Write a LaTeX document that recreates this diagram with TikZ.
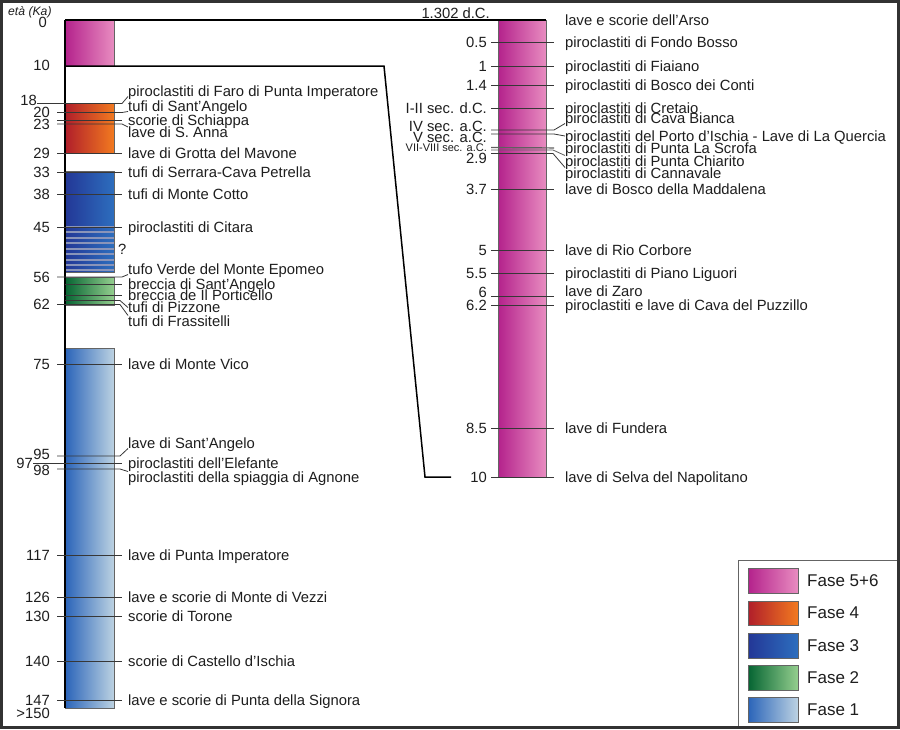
\documentclass[tikz,border=0pt]{standalone}
\usepackage{fontspec}
\setmainfont{Liberation Sans}
\definecolor{txtc}{RGB}{30,30,30}
\definecolor{tkc}{RGB}{55,55,55}
\definecolor{barc}{RGB}{100,100,100}
\definecolor{framec}{RGB}{50,50,50}
\definecolor{pL}{RGB}{180,34,140}
\definecolor{pR}{RGB}{232,140,192}
\definecolor{oL}{RGB}{176,30,42}
\definecolor{oR}{RGB}{242,122,32}
\definecolor{bL}{RGB}{35,55,150}
\definecolor{bR}{RGB}{45,110,190}
\definecolor{gL}{RGB}{5,100,50}
\definecolor{gR}{RGB}{148,206,142}
\definecolor{cL}{RGB}{42,100,185}
\definecolor{cR}{RGB}{188,210,226}
\definecolor{hatchc}{RGB}{138,148,185}
\tikzset{
  lbl/.style={inner sep=0pt, font=\fontsize{14.8}{16}\selectfont, text=txtc, text height=10.6pt, text depth=0pt},
  nm/.style={lbl, anchor=west},
  age/.style={lbl, anchor=east},
  tk/.style={draw=tkc, line width=0.8pt},
  bar/.style={draw=barc, line width=0.7pt},
  conn/.style={draw=black, line width=1.5pt},
  leg/.style={inner sep=0pt, font=\fontsize{17}{19}\selectfont, text=txtc, anchor=west},
}
% left straight row: name, y, age, text
\newcommand\Lst[4]{\node[nm] (n#1) at (128,#2) {#4};\node[age] (a#1) at (50,#2) {#3};\coordinate (t#1) at (57,#2);\draw[tk, shorten >=6pt] (t#1) -- (n#1.west);}
% right straight row
\newcommand\Rst[4]{\node[nm] (n#1) at (565,#2) {#4};\node[age] (a#1) at (487,#2) {#3};\coordinate (t#1) at (491,#2);\draw[tk, shorten >=11pt] (t#1) -- (n#1.west);}
\begin{document}
\begin{tikzpicture}[x=1pt,y=-1pt]
\useasboundingbox (0,0) rectangle (900,729);
\fill[white] (0,0) rectangle (900,729);

% ---- bars ----
\fill[left color=pL, right color=pR] (65,20) rectangle (114,66);
\draw[bar] (65,20) rectangle (114,66);
\fill[left color=oL, right color=oR] (65,103) rectangle (114,153);
\draw[bar] (65,103) rectangle (114,153);
\fill[left color=bL, right color=bR] (65,171) rectangle (114,272);
\draw[bar] (65,171) rectangle (114,272);
\fill[left color=gL, right color=gR] (65,277) rectangle (114,305);
\draw[bar] (65,277) rectangle (114,305);
\fill[left color=cL, right color=cR] (65,348) rectangle (114,708);
\draw[bar] (65,348) rectangle (114,708);
\fill[left color=pL, right color=pR] (498,20) rectangle (546,477);
\draw[bar] (498,20) rectangle (546,477);

% hatch lines in Fase 3
\foreach \yy in {227,232,238,243,249,254,260,265,270}
  \draw[hatchc, line width=1.3pt] (65,\yy) -- (114,\yy);
\node[nm] (qm) at (118,249) {?};

% ---- axis & connectors ----
\coordinate (AX0) at (65,20);
\coordinate (AX1) at (65,708);
\coordinate (RPtr) at (546,20);
\coordinate (LPbl) at (65,66);
\coordinate (K1) at (384,66);
\coordinate (K2) at (425,477);
\coordinate (K3) at (451,477);
\draw[conn] (AX0) -- (AX1);
\draw[conn] (AX0) -- (RPtr);
\draw[conn] (LPbl) -- (K1) -- (K2) -- (K3);

% ---- left column ----
\node[lbl, anchor=west, font=\itshape\fontsize{12.2}{14}\selectfont] (eta) at (8,10) {età (Ka)};
\node[age] (a0) at (47,22) {0};
\node[age] (a10) at (50,65) {10};

% 18 Faro
\node[nm] (nFaro) at (128,91) {piroclastiti di Faro di Punta Imperatore};
\node[age] (a18) at (37,100) {18};
\coordinate (t18) at (37,103.5); \coordinate (b18) at (122,103.5);
\draw[tk] (t18) -- (b18) -- (nFaro.south west);
% 20 tufi di Sant'Angelo
\node[nm] (nTSA) at (128,106) {tufi di Sant’Angelo};
\node[age] (a20) at (50,112) {20};
\coordinate (t20) at (57,112.5); \coordinate (b20) at (122,112.5);
\draw[tk] (t20) -- (b20) -- (nTSA.south west);
% 23 scorie di Schiappa / lave di S. Anna
\node[nm] (nSch) at (128,120) {scorie di Schiappa};
\node[nm] (nSAn) at (128,132.5) {lave di S. Anna};
\node[age] (a23) at (50,124) {23};
\coordinate (t23a) at (57,120); \coordinate (t23b) at (57,124); \coordinate (b23b) at (122,124);
\draw[tk, shorten >=6pt] (t23a) -- (nSch.west);
\draw[tk] (t23b) -- (b23b) -- (nSAn.north west);

\Lst{29}{153}{29}{lave di Grotta del Mavone}
\Lst{33}{172}{33}{tufi di Serrara-Cava Petrella}
\Lst{38}{194}{38}{tufi di Monte Cotto}
\Lst{45}{227}{45}{piroclastiti di Citara}

% 56 tufo Verde
\node[nm] (nTV) at (128,269) {tufo Verde del Monte Epomeo};
\node[age] (a56) at (50,277) {56};
\coordinate (t56) at (57,277); \coordinate (b56) at (122,277);
\draw[tk] (t56) -- (b56) -- (nTV.south west);
% breccias
\node[nm] (nBSA) at (128,284) {breccia di Sant’Angelo};
\coordinate (tBSA) at (65,284);
\draw[tk, shorten >=6pt] (tBSA) -- (nBSA.west);
\node[nm] (nBIP) at (128,295) {breccia de Il Porticello};
\coordinate (tBIP) at (65,295);
\draw[tk, shorten >=6pt] (tBIP) -- (nBIP.west);
% Pizzone
\node[nm] (nPiz) at (128,307.5) {tufi di Pizzone};
\coordinate (tPiz) at (65,300.5); \coordinate (bPiz) at (120,300.5);
\draw[tk] (tPiz) -- (bPiz) -- (nPiz.west);
% 62 Frassitelli
\node[nm] (nFra) at (128,321) {tufi di Frassitelli};
\node[age] (a62) at (50,304) {62};
\coordinate (t62) at (57,304.5); \coordinate (b62) at (120,304.5);
\draw[tk] (t62) -- (b62) -- (nFra.north west);

\Lst{75}{364}{75}{lave di Monte Vico}

% 95
\node[nm] (nLSA) at (128,443) {lave di Sant’Angelo};
\node[age] (a95) at (50,454) {95};
\coordinate (t95) at (57,456); \coordinate (b95) at (120,456);
\draw[tk] (t95) -- (b95) -- (nLSA.south west);
% 97
\node[nm] (nEle) at (128,463) {piroclastiti dell’Elefante};
\node[age] (a97) at (33,463) {97};
\coordinate (t97) at (33,463);
\draw[tk, shorten >=6pt] (t97) -- (nEle.west);
% 98
\node[nm] (nAgn) at (128,477) {piroclastiti della spiaggia di Agnone};
\node[age] (a98) at (50,470) {98};
\coordinate (t98) at (57,469); \coordinate (b98) at (120,469);
\draw[tk] (t98) -- (b98) -- (nAgn.north west);

\Lst{117}{555}{117}{lave di Punta Imperatore}
\Lst{126}{597}{126}{lave e scorie di Monte di Vezzi}
\Lst{130}{616}{130}{scorie di Torone}
\Lst{140}{661}{140}{scorie di Castello d’Ischia}
\Lst{147}{700}{147}{lave e scorie di Punta della Signora}
\node[age] (a150) at (50,713) {>150};

% ---- right column ----
\node[age] (aArso) at (490,13.5) {1.302 d.C.};
\node[nm] (nArso) at (565,20) {lave e scorie dell’Arso};
\Rst{r05}{42}{0.5}{piroclastiti di Fondo Bosso}
\Rst{r1}{66}{1}{piroclastiti di Fiaiano}
\Rst{r14}{85}{1.4}{piroclastiti di Bosco dei Conti}
\Rst{rI}{108}{I-II sec. d.C.}{piroclastiti di Cretaio}
% IV sec
\node[nm] (nCB) at (565,118) {piroclastiti di Cava Bianca};
\node[age] (aIV) at (487,126) {IV sec. a.C.};
\coordinate (tIV) at (491,130); \coordinate (bIV) at (554,130);
\draw[tk] (tIV) -- (bIV) -- (nCB.south west);
% V sec
\node[nm] (nPI) at (565,136) {piroclastiti del Porto d’Ischia - Lave di La Quercia};
\node[age] (aV) at (487,137) {V sec. a.C.};
\coordinate (tV) at (491,134); \coordinate (bV) at (554,134);
\draw[tk] (tV) -- (bV) -- (nPI.west);
% VII-VIII sec
\node[nm] (nSc) at (565,148) {piroclastiti di Punta La Scrofa};
\node[age, font=\fontsize{11}{12}\selectfont, text height=8pt] (aVII) at (487,147) {VII-VIII sec. a.C.};
\coordinate (tVIIa) at (491,147.5); \coordinate (tVIIb) at (491,150); \coordinate (bVIIb) at (553,150);
\draw[tk, draw=gray!75!black, line width=1.2pt, shorten >=11pt] (tVIIa) -- (nSc.west);
\node[nm] (nCh) at (565,161) {piroclastiti di Punta Chiarito};
\draw[tk, draw=gray!75!black] (tVIIb) -- (bVIIb) -- (nCh.north west);
% 2.9
\node[nm] (nCa) at (565,173) {piroclastiti di Cannavale};
\node[age] (a29r) at (487,158) {2.9};
\coordinate (t29r) at (491,153.5); \coordinate (b29r) at (553,153.5);
\draw[tk] (t29r) -- (b29r) -- (nCa.north west);

\Rst{r37}{189}{3.7}{lave di Bosco della Maddalena}
\Rst{r5}{250}{5}{lave di Rio Corbore}
\Rst{r55}{273}{5.5}{piroclastiti di Piano Liguori}
% 6
\node[nm] (nZa) at (565,291) {lave di Zaro};
\node[age] (a6) at (487,292) {6};
\coordinate (t6a) at (491,296); \coordinate (t6b) at (554,296);
\draw[tk] (t6a) -- (t6b);
\Rst{r62}{305.5}{6.2}{piroclastiti e lave di Cava del Puzzillo}
\Rst{r85}{428}{8.5}{lave di Fundera}
\Rst{r10}{477}{10}{lave di Selva del Napolitano}

% ---- legend ----
\draw[barc, line width=0.8pt, fill=white] (738,560) rectangle (897,726);
\fill[left color=pL, right color=pR] (748,568) rectangle (798,593); \draw[bar] (748,568) rectangle (798,593);
\fill[left color=oL, right color=oR] (748,601) rectangle (798,625); \draw[bar] (748,601) rectangle (798,625);
\fill[left color=bL, right color=bR] (748,633) rectangle (798,658); \draw[bar] (748,633) rectangle (798,658);
\fill[left color=gL, right color=gR] (748,665) rectangle (798,690); \draw[bar] (748,665) rectangle (798,690);
\fill[left color=cL, right color=cR] (748,697) rectangle (798,722); \draw[bar] (748,697) rectangle (798,722);
\node[leg] (L56) at (807,580.5) {Fase 5+6};
\node[leg] (L4) at (807,613) {Fase 4};
\node[leg] (L3) at (807,645.5) {Fase 3};
\node[leg] (L2) at (807,677.5) {Fase 2};
\node[leg] (L1) at (807,709.5) {Fase 1};
% frame
\draw[framec, line width=3pt] (1.5,1.5) rectangle (898.5,727.5);
\end{tikzpicture}
\end{document}
